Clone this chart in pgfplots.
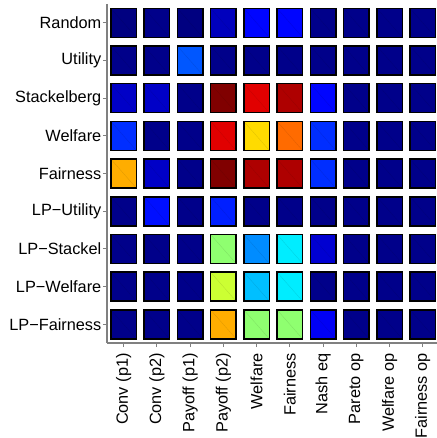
\documentclass[border=0pt]{standalone}
\usepackage{pgfplots}
\usepackage{pgfplotstable}
\usepackage{fontspec}
\setmainfont{Liberation Sans}
\pgfplotsset{compat=1.18}

\pgfdeclareplotmark{cell}{%
  \pgfpathrectangle{\pgfpoint{-12.75pt}{-14.5pt}}{\pgfpoint{25.5pt}{29pt}}%
  \pgfusepath{fill}%
  \pgfscope
    \pgfsetlinewidth{0.3pt}%
    \pgfsetstrokecolor{mapped color!88!black}%
    \pgfpathmoveto{\pgfpoint{-12.75pt}{14.5pt}}%
    \pgfpathlineto{\pgfpoint{12.75pt}{-14.5pt}}%
    \pgfusepath{stroke}%
  \endpgfscope
  \pgfpathrectangle{\pgfpoint{-12.75pt}{-14.5pt}}{\pgfpoint{25.5pt}{29pt}}%
  \pgfusepath{stroke}%
}

\pgfplotstableread{
x y c
1 1 0.00
2 1 0.01
3 1 0.00
4 1 0.06
5 1 0.13
6 1 0.13
7 1 0.01
8 1 0.01
9 1 0.01
10 1 0.01
1 2 0.01
2 2 0.01
3 2 0.21
4 2 0.01
5 2 0.01
6 2 0.01
7 2 0.01
8 2 0.01
9 2 0.01
10 2 0.01
1 3 0.07
2 3 0.07
3 3 0.01
4 3 1.00
5 3 0.905
6 3 0.955
7 3 0.13
8 3 0.01
9 3 0.01
10 3 0.01
1 4 0.17
2 4 0.01
3 4 0.01
4 4 0.905
5 4 0.66
6 4 0.77
7 4 0.17
8 4 0.01
9 4 0.01
10 4 0.01
1 5 0.705
2 5 0.07
3 5 0.01
4 5 1.00
5 5 0.955
6 5 0.955
7 5 0.17
8 5 0.01
9 5 0.01
10 5 0.01
1 6 0.01
2 6 0.14
3 6 0.01
4 6 0.155
5 6 0.01
6 6 0.01
7 6 0.01
8 6 0.01
9 6 0.01
10 6 0.01
1 7 0.01
2 7 0.01
3 7 0.01
4 7 0.515
5 7 0.2625
6 7 0.357
7 7 0.08
8 7 0.01
9 7 0.01
10 7 0.01
1 8 0.01
2 8 0.01
3 8 0.01
4 8 0.575
5 8 0.3125
6 8 0.357
7 8 0.01
8 8 0.01
9 8 0.01
10 8 0.01
1 9 0.01
2 9 0.01
3 9 0.01
4 9 0.705
5 9 0.515
6 9 0.515
7 9 0.115
8 9 0.01
9 9 0.01
10 9 0.01
}\cells

\begin{document}
\begin{tikzpicture}
\begin{axis}[
  scale only axis,
  width=332.4pt, height=339.2pt,
  xmin=0.5, xmax=10.5, ymin=0.5, ymax=9.5,
  y dir=reverse,
  clip=false,
  axis x line*=bottom, axis y line*=left,
  axis line style={draw=gray, line width=1.5pt},
  tick style={draw=gray, line width=1pt},
  major tick length=4pt,
  tick align=outside,
  xtick={1,...,10}, ytick={1,...,9},
  xticklabels={Conv (p1),Conv (p2),Payoff (p1),Payoff (p2),Welfare,Fairness,Nash eq,Pareto op,Welfare op,Fairness op},
  yticklabels={Random,Utility,Stackelberg,Welfare,Fairness,LP−Utility,LP−Stackel,LP−Welfare,LP−Fairness},
  tick label style={font=\fontsize{16.3}{19}\selectfont, text=black},
  yticklabel style={inner sep=0pt, xshift=-1.5pt},
  xticklabel style={rotate=90, anchor=east, inner xsep=6pt, inner ysep=0pt},
  colormap={myjet}{rgb255(0cm)=(0,0,128); rgb255(1cm)=(0,0,255); rgb255(3cm)=(0,255,255); rgb255(5cm)=(255,255,0); rgb255(7cm)=(255,0,0); rgb255(8cm)=(128,0,0)},
  point meta min=0, point meta max=1,
]
\addplot[scatter, only marks, mark=cell,
  mark options={line width=1.5pt},
  scatter/use mapped color={draw=black, fill=mapped color},
  point meta=explicit] table[x=x, y=y, meta=c] {\cells};
\coordinate (tl) at (rel axis cs:0,1);
\end{axis}
\pgfresetboundingbox
\path ([xshift=-107pt,yshift=4pt]tl) rectangle ([xshift=329pt,yshift=-434pt]tl);
\end{tikzpicture}
\end{document}
